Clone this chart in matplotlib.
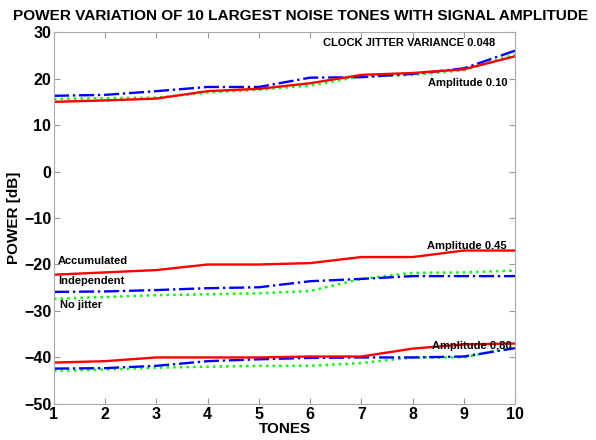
import numpy as np
import matplotlib.pyplot as plt

plt.rcParams['font.family'] = ['Liberation Sans', 'DejaVu Sans']
plt.rcParams['font.weight'] = 'bold'

tones = np.arange(1, 11)

# amplitude 0.10
acc_010 = [15.0, 15.3, 15.7, 17.3, 17.8, 19.0, 20.8, 21.2, 22.0, 24.8]
ind_010 = [16.3, 16.5, 17.3, 18.2, 18.2, 20.2, 20.3, 21.0, 22.2, 26.0]
noj_010 = [15.6, 15.8, 15.9, 17.0, 17.6, 18.5, 20.5, 20.8, 21.8, 25.2]

# amplitude 0.45
acc_045 = [-22.2, -21.7, -21.2, -20.0, -20.0, -19.7, -18.4, -18.4, -17.0, -17.0]
ind_045 = [-25.9, -25.8, -25.5, -25.1, -24.9, -23.6, -23.1, -22.5, -22.5, -22.5]
noj_045 = [-27.4, -27.0, -26.6, -26.4, -26.2, -25.7, -23.1, -21.8, -21.7, -21.3]

# amplitude 0.80
acc_080 = [-41.1, -40.8, -40.0, -40.0, -40.0, -39.8, -39.8, -38.1, -37.2, -37.0]
ind_080 = [-42.4, -42.3, -41.8, -40.8, -40.4, -40.1, -40.0, -40.0, -39.8, -38.0]
noj_080 = [-42.9, -42.6, -42.2, -42.0, -41.8, -41.8, -41.2, -40.0, -40.0, -37.7]

fig = plt.figure(figsize=(5.96, 4.40), dpi=100)
ax = fig.add_axes([0.0906, 0.082, 0.7735, 0.845])

for acc, ind, noj in [(acc_010, ind_010, noj_010),
                      (acc_045, ind_045, noj_045),
                      (acc_080, ind_080, noj_080)]:
    ax.plot(tones, noj, color='#00ff00', linestyle=':', linewidth=1.8)
    ax.plot(tones, ind, color='#0000ff', linestyle='-.', linewidth=1.7)
    ax.plot(tones, acc, color='#ff0000', linestyle='-', linewidth=1.7)

ax.set_xlim(1, 10)
ax.set_ylim(-50, 30)
ax.set_xticks(tones)
ax.set_yticks(np.arange(-50, 31, 10))
ax.tick_params(direction='in', length=4, color='#999999', labelsize=11.5,
               pad=2, top=True, right=True)
for s in ax.spines.values():
    s.set_color('#aaaaaa')

ax.text(6.25, 27.6, 'CLOCK JITTER VARIANCE 0.048', fontsize=8, va='center')
ax.text(8.3, 19.0, 'Amplitude 0.10', fontsize=8, va='center')
ax.text(8.28, -16.0, 'Amplitude 0.45', fontsize=8, va='center')
ax.text(8.38, -37.5, 'Amplitude 0.80', fontsize=8, va='center')
ax.text(1.08, -19.2, 'Accumulated', fontsize=8, va='center')
ax.text(1.08, -23.5, 'Independent', fontsize=8, va='center')
ax.text(1.12, -28.7, 'No jitter', fontsize=8, va='center')

ax.set_title('POWER VARIATION OF 10 LARGEST NOISE TONES WITH SIGNAL AMPLITUDE',
             fontsize=11.1, fontweight='bold', pad=9, x=0.534)
ax.set_xlabel('TONES', fontsize=11, fontweight='bold', labelpad=0)
ax.set_ylabel('POWER [dB]', fontsize=11, fontweight='bold', labelpad=2)

fig.savefig('out.png', dpi=100)
